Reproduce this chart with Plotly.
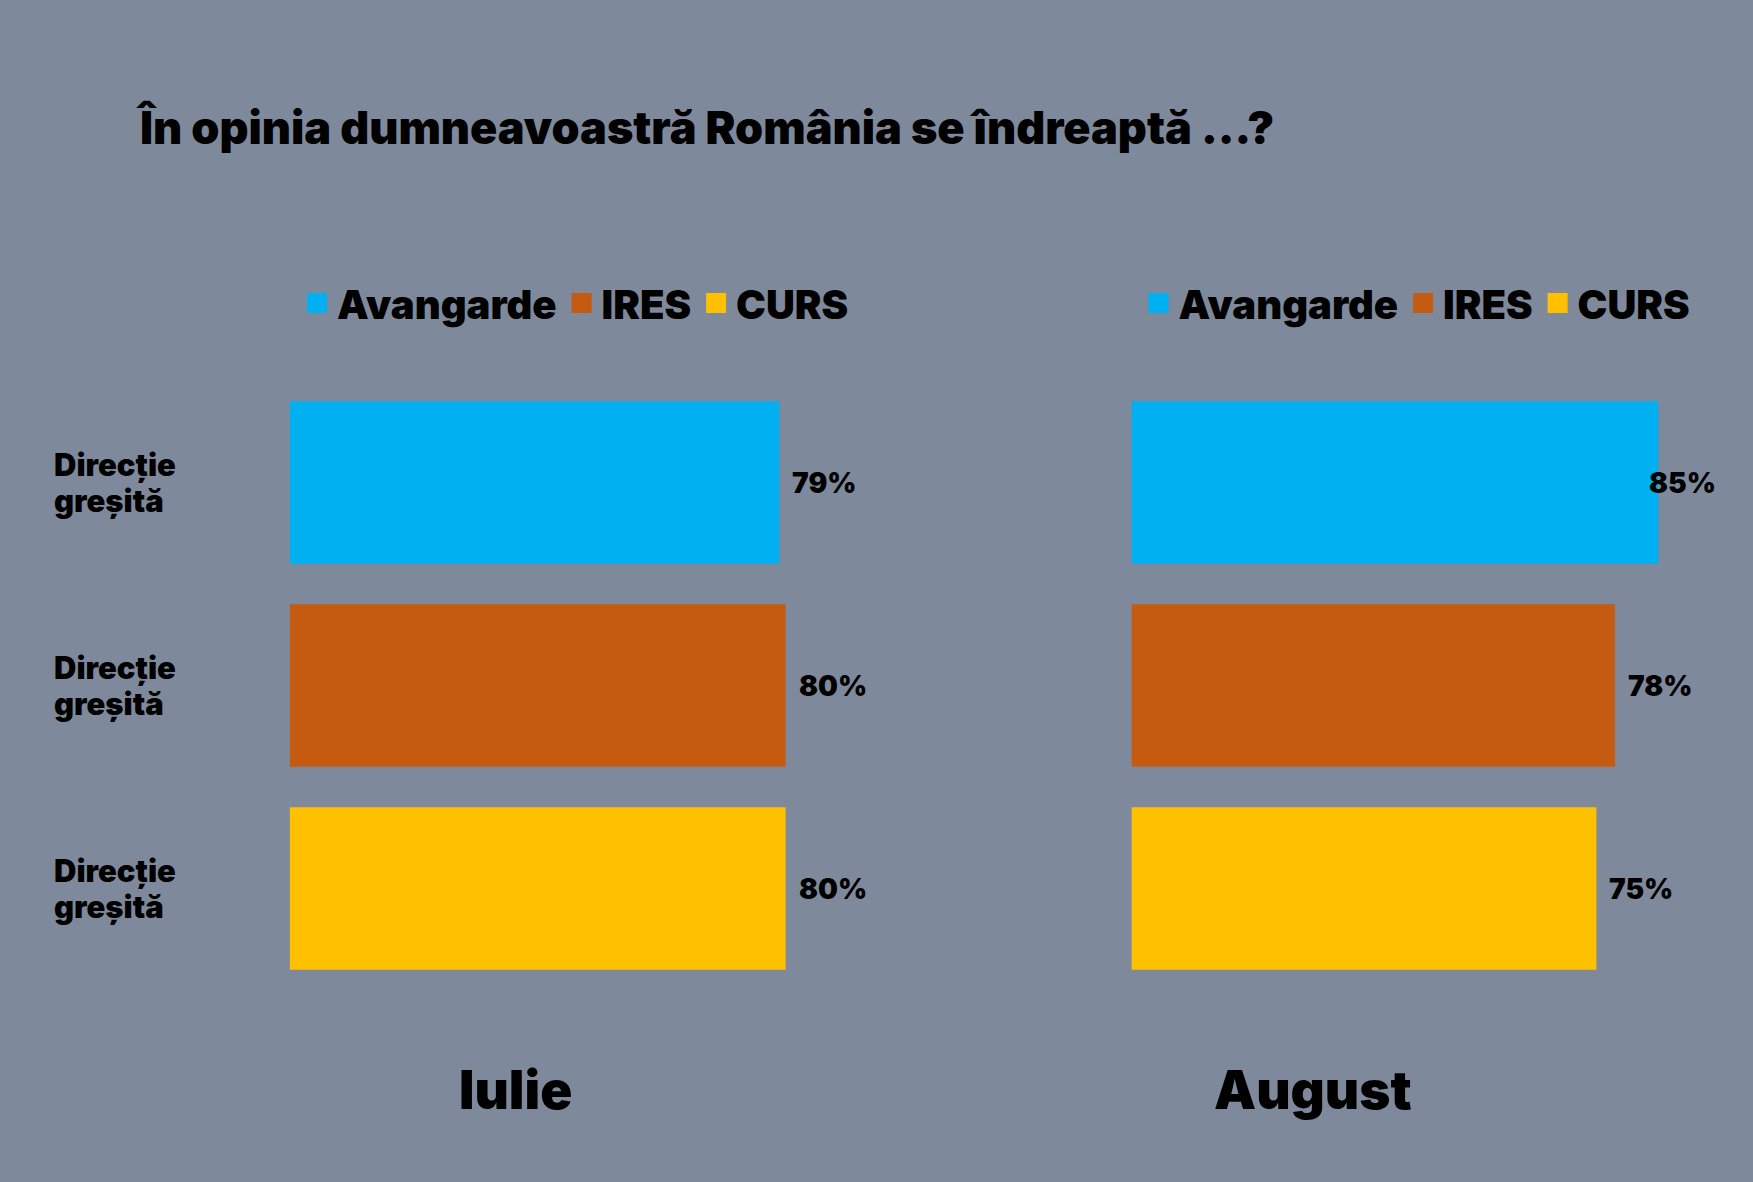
import plotly.graph_objects as go

SOURCES = ["Avangarde", "IRES", "CURS"]
IULIE = [79, 80, 80]
AUGUST = [85, 78, 75]
MONTHS = ["Iulie", "August"]
ROW_LABEL = ["Direcție", "greșită"]
COLORS = ["#00B0F0", "#C55A11", "#FFC000"]

BG = "#7E8A9C"
FONT = "Inter, Lato, sans-serif"

W, H = 1753, 1182

fig = go.Figure()

# one trace per source and panel, so each panel gets its own legend
for panel, values in enumerate([IULIE, AUGUST]):
    ax = "" if panel == 0 else "2"
    leg = "legend" if panel == 0 else "legend2"
    for src, val, col in zip(SOURCES, values, COLORS):
        fig.add_trace(go.Bar(
            x=[val], y=[src], orientation="h",
            name=src, marker_color=col, marker_line_width=0,
            xaxis="x" + ax, yaxis="y" + ax,
            showlegend=False, hoverinfo="skip",
        ))
        # legend-only entry with a bigger square swatch (outline pads it out)
        fig.add_trace(go.Scatter(
            x=[None], y=[None], mode="markers", name=src,
            marker=dict(symbol="square", size=21, color=col,
                        line=dict(color=col, width=4)),
            xaxis="x" + ax, yaxis="y" + ax, legend=leg,
        ))
        # value label just past the bar end (85% sits over the edge in the original)
        fig.add_annotation(
            x=val, y=src, xref="x" + ax, yref="y" + ax,
            text=f"{val}%", showarrow=False,
            xanchor="left", yanchor="middle",
            xshift=-11 if (panel == 1 and val == max(values)) else 11,
            font=dict(family=FONT, size=28, color="black", weight=900),
        )

# row labels on the left panel, two tight lines
for src in SOURCES:
    for line, shift in zip(ROW_LABEL, [18, -18]):
        fig.add_annotation(
            x=52 / W, xref="paper", y=src, yref="y", yshift=shift,
            text=line, showarrow=False,
            xanchor="left", yanchor="middle", align="left",
            font=dict(family=FONT, size=31, color="black", weight=900),
        )

# month captions under each panel
for month, xpos in zip(MONTHS, [515 / W, 1313 / W]):
    fig.add_annotation(
        x=xpos, xref="paper", y=1 - 1090 / H, yref="paper",
        text=month, showarrow=False,
        xanchor="center", yanchor="middle",
        font=dict(family=FONT, size=53, color="black", weight=900),
    )

ydom = [1 - 990 / H, 1 - 381 / H]
axis_common = dict(range=[0, 100], showgrid=False, zeroline=False,
                   showticklabels=False, showline=False, fixedrange=True)
yaxis_common = dict(type="category", categoryorder="array", categoryarray=SOURCES,
                    showgrid=False, zeroline=False, showticklabels=False,
                    showline=False, autorange="reversed", fixedrange=True)

leg_common = dict(orientation="h", yanchor="middle", xanchor="left",
                  bgcolor="rgba(0,0,0,0)", traceorder="normal",
                  itemclick=False, itemdoubleclick=False, itemsizing="trace",
                  font=dict(family=FONT, size=40, color="black", weight=900))

fig.update_layout(
    width=W, height=H,
    paper_bgcolor=BG, plot_bgcolor=BG,
    margin=dict(l=0, r=0, t=0, b=0),
    barmode="overlay", bargap=0.2,
    title=dict(
        text="În opinia dumneavoastră România se îndreaptă ...?",
        x=140 / W, xanchor="left", xref="paper",
        y=1 - 128 / H, yanchor="middle", yref="paper",
        font=dict(family=FONT, size=45, color="black", weight=900),
    ),
    xaxis=dict(domain=[289.6 / W, 909.6 / W], **axis_common),
    yaxis=dict(domain=ydom, **yaxis_common),
    xaxis2=dict(domain=[1131.4 / W, 1751.4 / W], anchor="y2", **axis_common),
    yaxis2=dict(domain=ydom, anchor="x2", **yaxis_common),
    legend=dict(x=297 / W, y=1 - 303 / H, **leg_common),
    legend2=dict(x=1138.5 / W, y=1 - 303 / H, **leg_common),
    showlegend=True,
)

fig.write_html(
    "out.html",
    config={"displayModeBar": False},
    post_script=f"document.body.style.margin='0px';document.body.style.background='{BG}';",
)
